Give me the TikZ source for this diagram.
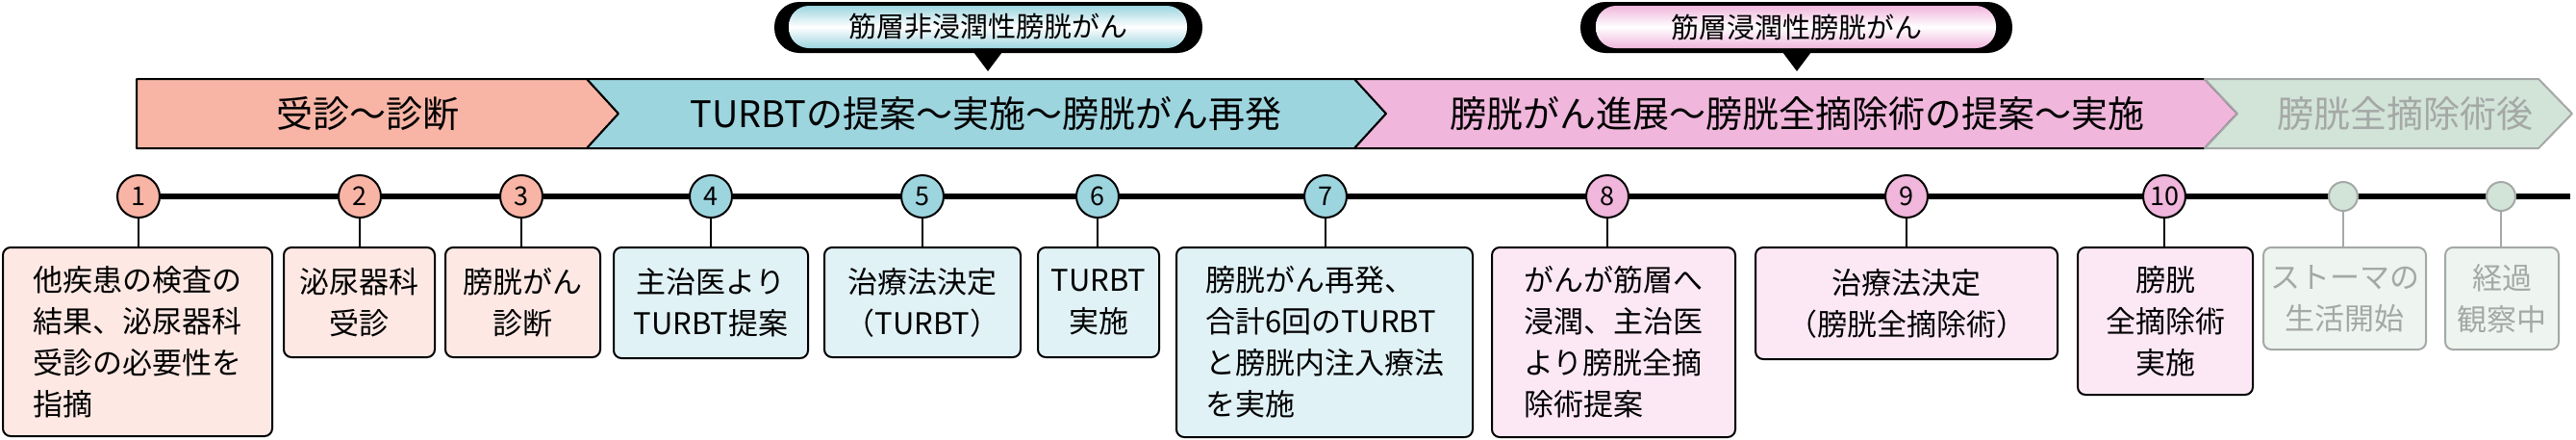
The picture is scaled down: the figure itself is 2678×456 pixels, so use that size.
\documentclass[tikz,border=0pt]{standalone}
\usepackage{fontspec}
\setmainfont{Noto Sans CJK JP}
\definecolor{dgpink}{HTML}{F8B5A6}
\definecolor{dgblue}{HTML}{9DD5DF}
\definecolor{dgmag}{HTML}{F0B6DC}
\definecolor{dggreen}{HTML}{D2E3D8}
\definecolor{lgpink}{HTML}{FDE8E4}
\definecolor{lgblue}{HTML}{E1F2F6}
\definecolor{lgmag}{HTML}{FCE8F5}
\definecolor{lggreen}{HTML}{EEF5F0}
\definecolor{fadegray}{HTML}{A4A8A6}

\begin{document}
\begin{tikzpicture}[x=1pt,y=-1pt,line join=round]
  \tikzstyle{stage}=[draw=black,line width=2pt]
  \tikzstyle{stage text}=[font=\fontsize{38}{40}\selectfont]
  \tikzstyle{marker}=[circle,draw=black,line width=2pt,minimum size=44pt,inner sep=0pt,
    font=\fontsize{27}{27}\selectfont]
  \tikzstyle{event}=[draw=black,line width=2pt,rounded corners=8pt,anchor=north west,
    inner sep=0pt,font=\fontsize{31}{43}\selectfont]
  \tikzstyle{stem}=[line width=2pt]
  \tikzstyle{pill text}=[font=\fontsize{29}{30}\selectfont]

  \useasboundingbox (0,0) rectangle (2678,456);

  % Phase labels above the bar
  \fill[black,rounded corners=26pt] (805,2) rectangle (1250,55);
  \shade[rounded corners=21pt,top color=dgblue,bottom color=dgblue,middle color=white]
    (820,6) rectangle (1234,50);
  \fill (1012,54) -- (1042,54) -- (1027,74) -- cycle;
  \node[pill text] (nmi) at (1027,28) {筋層非浸潤性膀胱がん};

  \fill[black,rounded corners=26pt] (1643,2) rectangle (2092,55);
  \shade[rounded corners=21pt,top color=dgmag,bottom color=dgmag,middle color=white]
    (1659,6) rectangle (2075,50);
  \fill (1853,54) -- (1883,54) -- (1868,74) -- cycle;
  \node[pill text] (mi) at (1868,28) {筋層浸潤性膀胱がん};

  % Chevron bar
  \draw[stage,fill=dgpink] (142,82) -- (610,82) -- (643,118) -- (610,154) -- (142,154) -- cycle;
  \draw[stage,fill=dgblue] (610,82) -- (1408,82) -- (1441,118) -- (1408,154) -- (610,154) -- (643,118) -- cycle;
  \draw[stage,fill=dgmag] (1408,82) -- (2292,82) -- (2326,118) -- (2292,154) -- (1408,154) -- (1441,118) -- cycle;
  \draw[stage,draw=fadegray,fill=dggreen] (2292,82) -- (2639,82) -- (2674,118) -- (2639,154) -- (2292,154) -- (2326,118) -- cycle;
  \node[stage text] (s1) at (382,118) {受診〜診断};
  \node[stage text] (s2) at (1025,118) {TURBTの提案〜実施〜膀胱がん再発};
  \node[stage text] (s3) at (1868,118) {膀胱がん進展〜膀胱全摘除術の提案〜実施};
  \node[stage text,text=fadegray] (s4) at (2500,118) {膀胱全摘除術後};

  % Timeline
  \coordinate (tl-end) at (2672,204);
  \draw[line width=6pt] (144,204) -- (tl-end);

  \foreach \name / \x / \col in {1/144/dgpink,2/374/dgpink,3/542/dgpink,4/739/dgblue,
    5/959/dgblue,6/1141/dgblue,7/1378/dgblue,8/1671/dgmag,9/1982/dgmag,10/2250/dgmag}
  \node[marker,fill=\col] (C-\name) at (\x,204) {\name};
  \node[marker,draw=fadegray,fill=dggreen,minimum size=30pt] (C-11) at (2436,204) {};
  \node[marker,draw=fadegray,fill=dggreen,minimum size=30pt] (C-12) at (2600,204) {};

  % Event boxes
  \node[event,fill=lgpink,minimum width=280pt,minimum height=196pt,align=left] (B-1) at (2,256)
    {他疾患の検査の\\結果、泌尿器科\\受診の必要性を\\指摘\hspace{5em}};
  \node[event,fill=lgpink,minimum width=157pt,minimum height=114pt,align=center] (B-2) at (294,256)
    {泌尿器科\\受診};
  \node[event,fill=lgpink,minimum width=161pt,minimum height=114pt,align=center] (B-3) at (462,256)
    {膀胱がん\\診断};
  \node[event,fill=lgblue,minimum width=202pt,minimum height=115pt,align=center] (B-4) at (637,256)
    {主治医より\\TURBT提案};
  \node[event,fill=lgblue,minimum width=204pt,minimum height=114pt,align=center] (B-5) at (856,256)
    {治療法決定\\（TURBT）};
  \node[event,fill=lgblue,minimum width=126pt,minimum height=114pt,align=center] (B-6) at (1078,256)
    {TURBT\\実施};
  \node[event,fill=lgblue,minimum width=308pt,minimum height=197pt,align=left] (B-7) at (1222,256)
    {膀胱がん再発、\\合計6回のTURBT\\と膀胱内注入療法\\を実施};
  \node[event,fill=lgmag,minimum width=253pt,minimum height=197pt,align=left] (B-8) at (1550,256)
    {がんが筋層へ\\浸潤、主治医\\より膀胱全摘\\除術提案};
  \node[event,fill=lgmag,minimum width=314pt,minimum height=116pt,align=center] (B-9) at (1824,256)
    {治療法決定\\（膀胱全摘除術）};
  \node[event,fill=lgmag,minimum width=182pt,minimum height=153pt,align=center] (B-10) at (2159,256)
    {膀胱\\全摘除術\\実施};
  \node[event,draw=fadegray,text=fadegray,fill=lggreen,minimum width=169pt,minimum height=106pt,
    align=center] (B-11) at (2352,256) {ストーマの\\生活開始};
  \node[event,draw=fadegray,text=fadegray,fill=lggreen,minimum width=118pt,minimum height=106pt,
    align=center] (B-12) at (2541,256) {経過\\観察中};

  % Connect circles to boxes
  \foreach \n in {1,...,10}
  \draw[stem] (C-\n.south) -- (C-\n.south |- B-\n.north);
  \foreach \n in {11,12}
  \draw[stem,draw=fadegray] (C-\n.south) -- (C-\n.south |- B-\n.north);
\end{tikzpicture}
\end{document}
